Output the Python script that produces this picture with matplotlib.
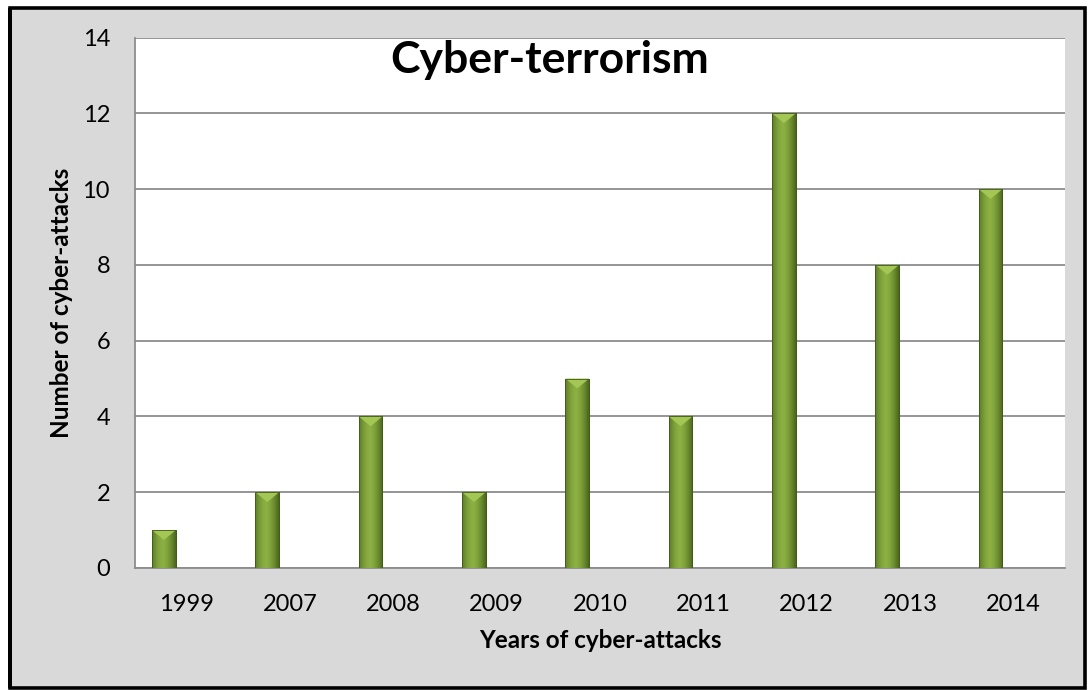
import matplotlib.pyplot as plt
import matplotlib.patches as ptch
import numpy as np

years = ["1999", "2007", "2008", "2009", "2010", "2011", "2012", "2013", "2014"]
attacks = [1, 2, 4, 2, 5, 4, 12, 8, 10]

plt.rcParams['font.family'] = ['Lato', 'DejaVu Sans']

W, H = 1091, 690
fig = plt.figure(figsize=(W / 100, H / 100), dpi=100)
fig.patch.set_facecolor("white")

# grey frame with black border
frame = ptch.Rectangle((10 / W, 2 / H), 1075 / W, 680 / H, transform=fig.transFigure,
                       facecolor="#d9d9d9", edgecolor="black", linewidth=2.6, zorder=-10)
fig.patches.append(frame)
fig.patches.append(ptch.Rectangle((8 / W, 2 / H), 4 / W, 680 / H, transform=fig.transFigure,
                                  facecolor="black", edgecolor="none", zorder=-9))

ax = fig.add_axes([135 / W, (H - 568) / H, 930 / W, 530.5 / H])
ax.set_facecolor("white")

x = np.arange(len(years))
bw = 0.229
off = -0.22

# gradient for the cylinder look
grad = np.linspace(0, 1, 64)
shade = 1 - (np.abs(grad - 0.45) / 0.55) ** 1.6
dark = np.array([0.29, 0.40, 0.11])
light = np.array([0.55, 0.69, 0.26])
img = dark[None, :] + (light - dark)[None, :] * shade[:, None]
img = img[None, :, :]

bars = ax.bar(x + off, attacks, width=bw, color="#7a9a32", edgecolor="#3f5a17",
              linewidth=0.6, zorder=3)
for b in bars:
    x0, y0 = b.get_x(), b.get_y()
    w, h = b.get_width(), b.get_height()
    im = ax.imshow(img, extent=[x0, x0 + w, y0, y0 + h], aspect="auto", zorder=3.5,
                   interpolation="bilinear")
    im.set_clip_path(b)
    tri_h = 0.26
    ax.add_patch(ptch.Polygon([[x0, y0 + h], [x0 + w, y0 + h], [x0 + w / 2, y0 + h - tri_h]],
                              closed=True, facecolor="#a3c655", edgecolor="none", zorder=4))
    ax.add_patch(ptch.Rectangle((x0, y0), w, h, fill=False, edgecolor="#3f5a17",
                                linewidth=0.6, zorder=4.5))

ax.set_xlim(-0.5, len(years) - 0.5)
ax.set_ylim(0, 14)
ax.set_yticks(range(0, 15, 2))
ax.set_xticks(x)
ax.set_xticklabels(years)
ax.tick_params(axis="both", length=0, labelsize=17, colors="black")
ax.tick_params(axis="y", pad=18)
ax.tick_params(axis="x", pad=19)
ax.yaxis.grid(True, color="#8c8c8c", linewidth=1.3, zorder=1)
ax.set_axisbelow(True)
for s in ["top", "right"]:
    ax.spines[s].set_visible(False)
for s in ["left", "bottom"]:
    ax.spines[s].set_color("#8c8c8c")
    ax.spines[s].set_linewidth(1.3)

ax.set_xlabel("Years of cyber-attacks", fontsize=17.5, fontweight="bold", labelpad=10)
ax.set_ylabel("Number of cyber-attacks", fontsize=17.5, fontweight="bold", labelpad=7)

fig.text(550 / W, (H - 73) / H, "Cyber-terrorism", fontsize=32, fontweight="bold",
         ha="center", va="baseline")

fig.savefig("out.png", dpi=100, facecolor=fig.get_facecolor())
